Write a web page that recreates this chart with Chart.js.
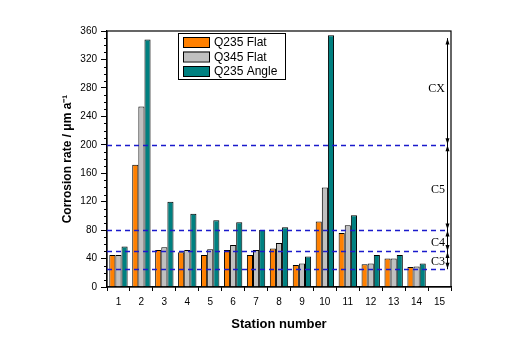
<!DOCTYPE html>
<html><head><meta charset="utf-8">
<script src="https://cdn.jsdelivr.net/npm/chart.js@4.4.1/dist/chart.umd.min.js"></script>
<style>html,body{margin:0;padding:0;background:#fff}#wrap{width:512px;height:362px}</style>
</head><body><div id="wrap"><canvas id="c" width="512" height="362"></canvas></div>
<script>
const stations = ['1','2','3','4','5','6','7','8','9','10','11','12','13','14','15'];
const q235Flat  = [45, 172, 52, 49, 45, 52, 45, 54, 31, 92, 76, 32, 40, 28, null];
const q345Flat  = [45, 254, 56, 52, 53, 59, 52, 62, 33, 140, 87, 33, 40, 29, null];
const q235Angle = [57, 348, 120, 103, 94, 91, 80, 84, 43, 354, 101, 45, 45, 33, null];
const seriesNames = ['Q235 Flat', 'Q345 Flat', 'Q235 Angle'];
const seriesColors = ['#FF8000', '#C0C0C0', '#008080'];
const classBounds = [25, 50, 80, 200, 350];
const classLabels = ['C3', 'C4', 'C5', 'CX'];
const yMin = 0, yMax = 360, yStep = 40, yMinorStep = 10;

const FONT = "'Liberation Sans', Arial, sans-serif";
const SERIF = "'Liberation Serif', 'Times New Roman', serif";

const decor = {
  id: 'decor',
  afterDatasetsDraw(chart) {
    const ctx = chart.ctx, a = chart.chartArea, y = chart.scales.y;
    ctx.save();
    // frame
    ctx.strokeStyle = '#000'; ctx.lineWidth = 1.2;
    ctx.strokeRect(a.left, a.top, a.right - a.left, a.bottom - a.top);
    // minor ticks
    ctx.lineWidth = 1;
    for (let v = yMin; v <= yMax; v += yMinorStep) {
      if (v % yStep === 0) continue;
      const py = Math.round(y.getPixelForValue(v)) + 0.5;
      ctx.beginPath(); ctx.moveTo(a.left - 3, py); ctx.lineTo(a.left, py); ctx.stroke();
    }
    const arrowX = a.right - 4;
    // dashed class lines
    ctx.strokeStyle = '#1a1acc'; ctx.lineWidth = 1.4; ctx.setLineDash([5, 4]);
    for (let i = 0; i < classBounds.length - 1; i++) {
      const py = Math.round(y.getPixelForValue(classBounds[i])) + 0.5;
      ctx.beginPath(); ctx.moveTo(a.left, py); ctx.lineTo(arrowX, py); ctx.stroke();
    }
    ctx.setLineDash([]);
    // vertical arrow line
    ctx.strokeStyle = '#000'; ctx.fillStyle = '#000'; ctx.lineWidth = 1;
    const yTop = y.getPixelForValue(classBounds[classBounds.length - 1]);
    const yBot = y.getPixelForValue(classBounds[0]);
    ctx.beginPath(); ctx.moveTo(arrowX + 0.5, yTop); ctx.lineTo(arrowX + 0.5, yBot); ctx.stroke();
    const head = (py, dir) => {
      ctx.beginPath();
      ctx.moveTo(arrowX + 0.5, py);
      ctx.lineTo(arrowX - 1.5, py + dir * 6);
      ctx.lineTo(arrowX + 2.5, py + dir * 6);
      ctx.closePath(); ctx.fill();
    };
    for (let i = 0; i < classLabels.length; i++) {
      const lo = y.getPixelForValue(classBounds[i]);
      const hi = y.getPixelForValue(classBounds[i + 1]);
      head(hi + 0.5, 1);
      head(lo - 0.5, -1);
      ctx.font = '12px ' + SERIF;
      ctx.textAlign = 'right'; ctx.textBaseline = 'middle';
      ctx.fillStyle = '#000';
      ctx.fillText(classLabels[i], arrowX - 2, (lo + hi) / 2 + (i === 3 ? -3 : 2));
    }
    // legend
    const lx = 178, ly = 33, lw = 107, lh = 46;
    ctx.fillStyle = '#fff'; ctx.fillRect(lx, ly, lw, lh);
    ctx.strokeStyle = '#000'; ctx.lineWidth = 1;
    ctx.strokeRect(lx + 0.5, ly + 0.5, lw, lh);
    chart.data.datasets.forEach((ds, i) => {
      const cy = ly + 9 + i * 14.5;
      ctx.fillStyle = ds.backgroundColor;
      ctx.fillRect(lx + 5, cy - 5, 27, 10);
      ctx.strokeRect(lx + 5.5, cy - 4.5, 26, 10);
      ctx.fillStyle = '#000';
      ctx.font = '12px ' + FONT;
      ctx.textAlign = 'left'; ctx.textBaseline = 'middle';
      ctx.fillText(ds.label, lx + 36, cy + 1);
    });
    ctx.restore();
  }
};

new Chart(document.getElementById('c'), {
  type: 'bar',
  data: {
    labels: stations,
    datasets: [q235Flat, q345Flat, q235Angle].map((d, i) => ({
      label: seriesNames[i], data: d,
      backgroundColor: seriesColors[i], borderColor: '#000', borderWidth: 1,
      categoryPercentage: 0.8, barPercentage: 1.0
    }))
  },
  options: {
    responsive: false, animation: false, devicePixelRatio: 1,
    layout: { padding: { left: 0, right: 61, top: 31, bottom: 0 } },
    plugins: { legend: { display: false }, tooltip: { enabled: false } },
    scales: {
      x: {
        grid: { display: true, drawOnChartArea: false, tickLength: 4, color: '#000' },
        border: { color: '#000', width: 1.2 },
        ticks: { color: '#000', font: { family: FONT, size: 10 }, padding: 5, maxRotation: 0 },
        title: { display: true, text: 'Station number', color: '#000',
                 font: { family: FONT, size: 13, weight: 'bold' }, padding: { top: 0, bottom: 30 } },
        afterFit(s) { s.height = 75; }
      },
      y: {
        min: yMin, max: yMax,
        grid: { display: true, drawOnChartArea: false, tickLength: 6, color: '#000' },
        border: { color: '#000', width: 1.2 },
        ticks: { stepSize: yStep, color: '#000', font: { family: FONT, size: 10 }, padding: 4 },
        title: { display: true, text: 'Corrosion rate / \u03BCm a\u207B\u00B9', color: '#000',
                 font: { family: FONT, size: 12, weight: 'bold' }, padding: { top: 60, bottom: 0 } },
        afterFit(s) { s.width = 107; }
      }
    }
  },
  plugins: [decor]
});
</script></body></html>
